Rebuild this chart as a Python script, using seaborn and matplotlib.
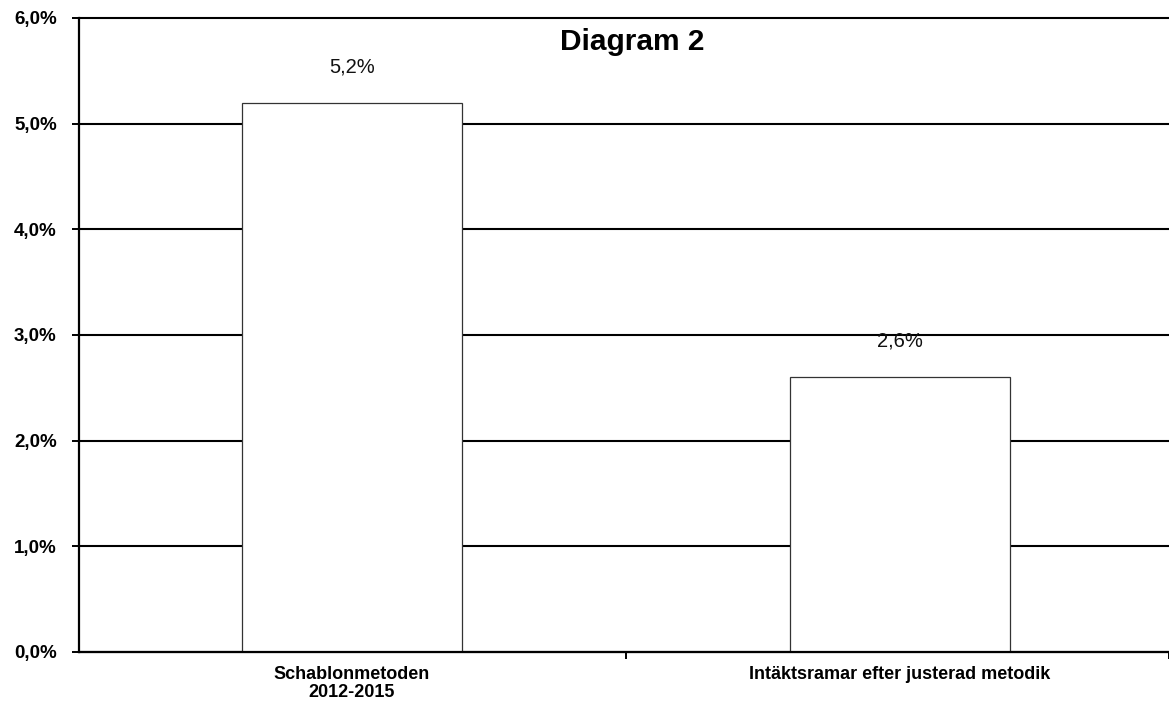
import numpy as np
import pandas as pd
import matplotlib
matplotlib.use('Agg')
import matplotlib.pyplot as plt
from matplotlib.ticker import FuncFormatter, FixedLocator
import seaborn as sns

# Data
categories = ['Schablonmetoden\n2012-2015', 'Intäktsramar efter justerad metodik']
values = [5.2, 2.6]
y_ticks = [0, 1, 2, 3, 4, 5, 6]
title = 'Diagram 2'


def pct_comma(v, pos=None):
    """Swedish style percent label, e.g. 5,0%"""
    return f"{v:.1f}%".replace('.', ',')


def main():
    sns.set_style('white')
    plt.rcParams['font.family'] = ['Liberation Sans', 'DejaVu Sans']
    plt.rcParams['text.color'] = 'black'
    plt.rcParams['xtick.color'] = 'black'
    plt.rcParams['ytick.color'] = 'black'

    df = pd.DataFrame({'kategori': categories, 'andel': values})

    fig = plt.figure(figsize=(11.69, 7.08), dpi=100)
    ax = fig.add_axes([0.0676, 0.0791, 0.9324, 0.8955])

    sns.barplot(data=df, x='kategori', y='andel', ax=ax, color='white',
                edgecolor='#333333', linewidth=0.9, width=0.4, zorder=3,
                saturation=1)

    ax.set_ylim(0, 6)
    ax.set_xlim(-0.498, 1.491)
    ax.yaxis.set_major_locator(FixedLocator(y_ticks))
    ax.yaxis.set_major_formatter(FuncFormatter(pct_comma))

    # black horizontal gridlines behind the bars
    ax.grid(axis='y', color='black', linewidth=1.5, zorder=0)
    ax.set_axisbelow(True)
    for gl in ax.get_ygridlines():
        gl.set_clip_on(False)

    for side in ['top', 'right']:
        ax.spines[side].set_visible(False)
    for side in ['left', 'bottom']:
        ax.spines[side].set_color('black')
        ax.spines[side].set_linewidth(1.6)
        ax.spines[side].set_zorder(4)

    ax.tick_params(axis='y', direction='out', length=5, width=1.4,
                   color='black', pad=11, labelsize=13.5, left=True,
                   labelcolor='black')
    for lbl in ax.get_yticklabels():
        lbl.set_fontweight('bold')

    # category labels without tick marks, small ticks between categories
    ax.tick_params(axis='x', which='major', length=0, pad=10, labelsize=13,
                   labelcolor='black')
    for lbl in ax.get_xticklabels():
        lbl.set_fontweight('bold')
        lbl.set_linespacing(1.05)
    ax.xaxis.set_minor_locator(FixedLocator([0.5, 1.491]))
    ax.tick_params(axis='x', which='minor', direction='out', length=5,
                   width=1.4, color='black', bottom=True)

    ax.set_xlabel('')
    ax.set_ylabel('')

    # value labels above the bars
    for cont in ax.containers:
        ax.bar_label(cont, labels=[pct_comma(v) for v in values],
                     padding=19, fontsize=14.5, color='#111111')

    ax.text(0.508, 0.962, title, transform=ax.transAxes, ha='center',
            va='center', fontsize=21.5, fontweight='bold', color='black')

    fig.savefig('out.png', dpi=100)
    plt.close(fig)


if __name__ == "__main__":
    main()
